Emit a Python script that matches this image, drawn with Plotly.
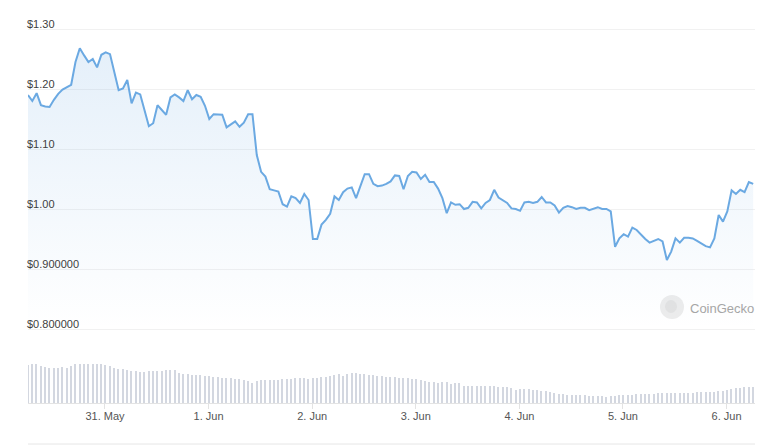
import pandas as pd
import plotly.graph_objects as go

# hourly samples, 30 May 06:10 -> 6 Jun 06:10
start_time = "2024-05-30 06:10"

price = [
    1.190, 1.180, 1.193, 1.173, 1.171, 1.170, 1.182, 1.192, 1.199, 1.203,
    1.207, 1.245, 1.268, 1.256, 1.245, 1.250, 1.236, 1.257, 1.261, 1.258,
    1.226, 1.198, 1.201, 1.215, 1.176, 1.194, 1.191, 1.165, 1.138, 1.143,
    1.173, 1.165, 1.157, 1.186, 1.191, 1.186, 1.180, 1.198, 1.183, 1.190,
    1.187, 1.172, 1.150, 1.158, 1.157, 1.157, 1.136, 1.141, 1.146, 1.137,
    1.144, 1.158, 1.158, 1.090, 1.062, 1.054, 1.033, 1.031, 1.029, 1.008,
    1.004, 1.021, 1.018, 1.010, 1.025, 1.015, 0.950, 0.950, 0.974, 0.982,
    0.992, 1.021, 1.015, 1.028, 1.034, 1.036, 1.018, 1.038, 1.058, 1.058,
    1.042, 1.038, 1.039, 1.042, 1.046, 1.056, 1.055, 1.033, 1.055, 1.062,
    1.061, 1.050, 1.057, 1.045, 1.045, 1.034, 1.018, 0.993, 1.011, 1.007,
    1.008, 1.000, 1.002, 1.012, 1.011, 1.001, 1.010, 1.015, 1.032, 1.019,
    1.014, 1.010, 1.001, 1.000, 0.997, 1.011, 1.012, 1.010, 1.012, 1.020,
    1.011, 1.011, 1.006, 0.994, 1.002, 1.005, 1.003, 1.000, 1.002, 1.002,
    0.998, 1.001, 1.003, 1.000, 1.000, 0.996, 0.937, 0.951, 0.958, 0.954,
    0.969, 0.965, 0.957, 0.950, 0.944, 0.947, 0.950, 0.946, 0.915, 0.929,
    0.951, 0.944, 0.952, 0.952, 0.951, 0.947, 0.943, 0.938, 0.936, 0.951,
    0.990, 0.979, 0.996, 1.031, 1.025, 1.032, 1.028, 1.045, 1.042,
]

# relative volume (arbitrary units)
volume = [
    38, 39, 39, 37, 36, 35, 35, 35, 36, 35,
    37, 39, 39, 39, 39, 39, 39, 39, 38, 37,
    35, 34, 34, 33, 32, 32, 31, 31, 32, 32,
    32, 32, 33, 33, 33, 30, 29, 29, 28, 28,
    28, 27, 27, 26, 26, 25, 25, 25, 24, 24,
    23, 22, 20, 22, 23, 23, 23, 23, 23, 24,
    24, 24, 25, 25, 25, 24, 25, 25, 26, 26,
    27, 28, 29, 27, 29, 30, 30, 29, 29, 28,
    28, 27, 27, 26, 26, 26, 25, 25, 25, 24,
    24, 23, 22, 21, 21, 20, 21, 21, 19, 20,
    20, 17, 17, 17, 17, 17, 17, 17, 17, 16,
    16, 16, 15, 13, 14, 14, 14, 13, 13, 12,
    12, 11, 10, 9, 9, 8, 8, 8, 8, 8,
    7, 7, 7, 7, 6, 7, 7, 8, 8, 8,
    8, 9, 9, 9, 9, 9, 10, 10, 10, 10,
    10, 10, 10, 10, 10, 11, 11, 11, 11, 11,
    12, 12, 13, 14, 15, 15, 16, 16, 16,
]

tick_vals = [1.30, 1.20, 1.10, 1.00, 0.90, 0.80]
tick_text = ["$1.30", "$1.20", "$1.10", "$1.00", "$0.900000", "$0.800000"]

times = pd.date_range(start_time, periods=len(price), freq="h")

LINE = "#6ba9e2"
FONT = "Liberation Sans, Arial, sans-serif"

# page body adds an 8px margin, so the figure is drawn 8px smaller
W, H = 765, 437
ML, MR, MT, MB = 20, 18, 12, 42
PW, PH = W - ML - MR, H - MT - MB

# price scale: 600 px per dollar, $1.30 gridline at page y=29
PX_PER_USD = 600
y_top = 1.30 + (29 - 8 - MT) / PX_PER_USD
y_bottom = y_top - PH / PX_PER_USD

fig = go.Figure()

fig.add_trace(go.Bar(
    x=times,
    y=volume,
    yaxis="y2",
    width=0.33 * 3600 * 1000,
    marker=dict(color="#d3d7e0", line=dict(width=0)),
    hoverinfo="skip",
))

fig.add_trace(go.Scatter(
    x=times,
    y=price,
    mode="lines",
    line=dict(color=LINE, width=2),
    fill="tozeroy",
    fillgradient=dict(
        type="vertical",
        start=0.80,
        stop=1.27,
        colorscale=[[0, "rgba(107,169,226,0.0)"], [1, "rgba(107,169,226,0.18)"]],
    ),
    hoverinfo="skip",
))

for val, txt in zip(tick_vals, tick_text):
    fig.add_annotation(
        x=0, xref="paper", xanchor="left", xshift=-3,
        y=val, yref="y", yanchor="bottom", yshift=-3,
        text=txt, showarrow=False,
        font=dict(family=FONT, size=11, color="#404040"),
    )


# helpers: page pixel -> paper fraction
def px_x(x):
    return (x - 8 - ML) / PW


def px_y(y):
    return (H - MB - (y - 8)) / PH


# CoinGecko watermark
fig.add_shape(type="circle", xref="paper", yref="paper",
              x0=px_x(660), x1=px_x(684), y0=px_y(319), y1=px_y(295),
              fillcolor="#ececec", line=dict(width=0), layer="below")
fig.add_shape(type="circle", xref="paper", yref="paper",
              x0=px_x(665), x1=px_x(677), y0=px_y(313), y1=px_y(300),
              fillcolor="#e2e2e2", line=dict(width=0), layer="below")
fig.add_annotation(
    x=px_x(688), xref="paper", xanchor="left",
    y=px_y(308), yref="paper", yanchor="middle",
    text="CoinGecko", showarrow=False,
    font=dict(family=FONT, size=13, color="#a6a6a6"),
)

# bottom rule
fig.add_shape(type="line", xref="paper", yref="paper",
              x0=0, x1=1, y0=px_y(444), y1=px_y(444),
              line=dict(color="#e6e6e6", width=1))

x_end = times[-1] + pd.Timedelta(minutes=25)

fig.update_layout(
    width=W,
    height=H,
    margin=dict(l=ML, r=MR, t=MT, b=MB),
    paper_bgcolor="white",
    plot_bgcolor="white",
    showlegend=False,
    bargap=0,
    font=dict(family=FONT, size=11, color="#555555"),
    xaxis=dict(
        type="date",
        range=[times[0], x_end],
        dtick=86400000,
        tick0="2024-05-31",
        tickformat="%-d. %b",
        showgrid=False,
        showline=True,
        linecolor="#e3e3e3",
        linewidth=1,
        ticks="outside",
        ticklen=5,
        tickcolor="#e3e3e3",
        ticklabelstandoff=-2,
        tickfont=dict(family=FONT, size=11, color="#555555"),
        zeroline=False,
    ),
    yaxis=dict(
        range=[y_bottom, y_top],
        tickvals=tick_vals,
        showticklabels=False,
        showgrid=True,
        gridcolor="#f1f1f1",
        gridwidth=1,
        zeroline=False,
    ),
    yaxis2=dict(
        range=[0, PH],
        overlaying="y",
        visible=False,
    ),
)

fig.write_html("out.html", config={"displayModeBar": False})
